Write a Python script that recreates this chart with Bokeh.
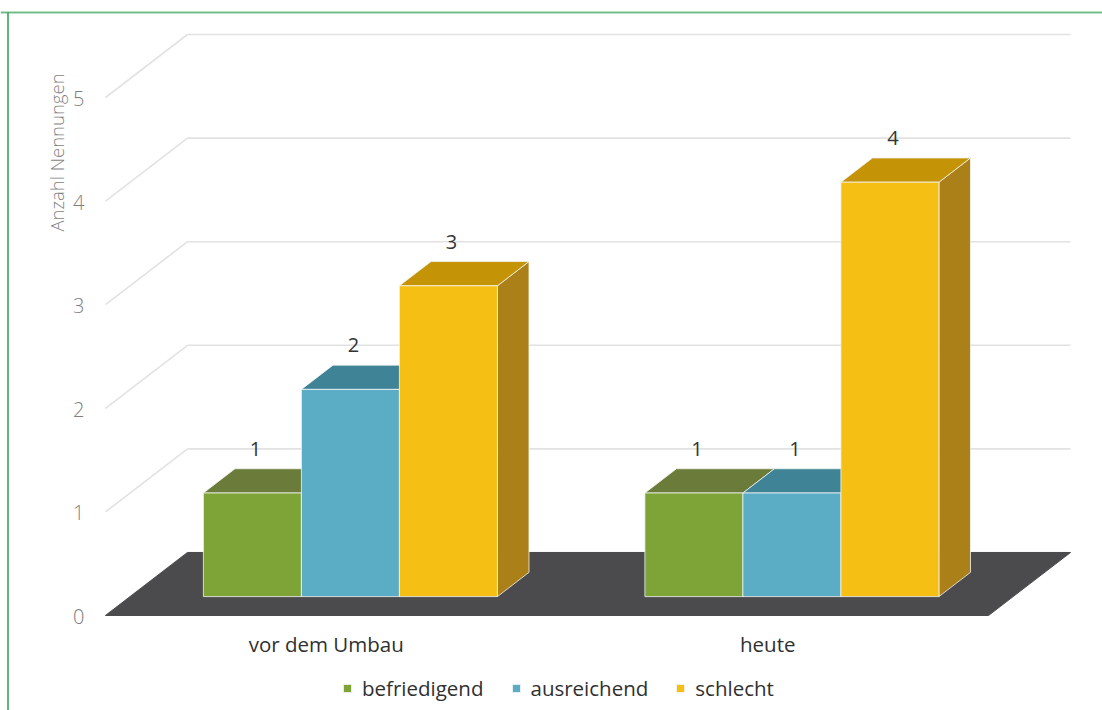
import numpy as np
from bokeh.plotting import figure
from bokeh.models import ColumnDataSource, Range1d, Legend, LegendItem, Label
from bokeh.core.properties import value
from bokeh.embed import file_html
from bokeh.resources import INLINE

# ---------------- data ----------------
categories = ["vor dem Umbau", "heute"]
series_names = ["befriedigend", "ausreichend", "schlecht"]
befriedigend = [1, 1]
ausreichend = [2, 1]
schlecht = [3, 4]
series_values = [befriedigend, ausreichend, schlecht]
y_ticks = [0, 1, 2, 3, 4, 5]
axis_title = "Anzahl Nennungen"

# ---------------- style ----------------
front_colors = ["#7ea336", "#5badc5", "#f5c013"]
top_colors = ["#6b7c3a", "#3f8496", "#c59406"]
side_colors = ["#5a6a2e", "#33707f", "#ab8018"]
floor_color = "#4b4b4d"
grid_color = "#e2e2e2"
edge_color = "#f4f4f4"

LIGHT_NAME = "'Open Sans Light', 'Open Sans'"
FONT = value("Open Sans")
FONT_LIGHT = value(LIGHT_NAME)

W, H = 1102, 710
XS = 441.5      # px per category slot
YS = 103.6      # px per value unit
DEPTH_X = 82.0  # px of full depth (x)
DEPTH_Y = 63.0  # px of full depth (y)
ORIGIN_X = 105  # px from left: front-left corner of floor
ORIGIN_Y = 615  # px from top: value 0 on front plane
GAP = 0.166     # slot fraction left of first bar
BW = 0.222      # bar width (slot fraction)
D0, D1 = 0.30, 0.685  # bar depth extent (fraction of full depth)

dxu = DEPTH_X / XS
dyu = DEPTH_Y / YS
n_cat = len(categories)

x_start = -ORIGIN_X / XS
y_start = -(H - ORIGIN_Y) / YS
p = figure(width=W, height=H,
           x_range=Range1d(x_start, x_start + W / XS),
           y_range=Range1d(y_start, y_start + H / YS),
           output_backend="svg", toolbar_location=None,
           x_axis_location=None, y_axis_location=None,
           min_border=0, outline_line_color=None,
           background_fill_color="white", border_fill_color="white")
p.xgrid.visible = False
p.ygrid.visible = False

# decorative frame lines (green) derived from ranges
xr0, xr1 = p.x_range.start, p.x_range.end
yr0, yr1 = p.y_range.start, p.y_range.end
top_y = yr1 - 12 / YS
left_x = xr0 + 7.5 / XS
p.segment(x0=[xr0], y0=[top_y], x1=[xr1], y1=[top_y], line_color="#72bd8a", line_width=2)
p.segment(x0=[left_x], y0=[top_y], x1=[left_x], y1=[yr0], line_color="#2f9657", line_width=1.5)

# walls: gridlines on side and back
gx, gy = [], []
for t in y_ticks:
    gx.append([0, dxu]); gy.append([t, t + dyu])
    gx.append([dxu, n_cat + dxu]); gy.append([t + dyu, t + dyu])
p.multi_line(xs=gx, ys=gy, line_color=grid_color, line_width=1.6)

# floor
p.patch(x=[0, n_cat, n_cat + dxu, dxu], y=[0, 0, dyu, dyu], fill_color=floor_color, line_color=floor_color)

# bars
ddx = (D1 - D0) * dxu
ddy = (D1 - D0) * dyu
legend_items = []
lab_x, lab_y, lab_t = [], [], []
for j, vals in enumerate(series_values):
    x0 = np.array([i + GAP + j * BW + D0 * dxu for i in range(n_cat)])
    x1 = x0 + BW
    yb = np.full(n_cat, D0 * dyu)
    yt = np.array(vals, dtype=float) + D0 * dyu
    side = ColumnDataSource(dict(
        xs=[[a, a, a + ddx, a + ddx] for a in x1],
        ys=[[b, c, c + ddy, b + ddy] for b, c in zip(yb, yt)]))
    top = ColumnDataSource(dict(
        xs=[[a, b, b + ddx, a + ddx] for a, b in zip(x0, x1)],
        ys=[[c, c, c + ddy, c + ddy] for c in yt]))
    front = ColumnDataSource(dict(left=x0, right=x1, bottom=yb, top=yt))
    p.patches("xs", "ys", source=side, fill_color=side_colors[j], line_color=edge_color, line_width=1, line_alpha=0.8)
    p.patches("xs", "ys", source=top, fill_color=top_colors[j], line_color=edge_color, line_width=1, line_alpha=0.8)
    r = p.quad(left="left", right="right", bottom="bottom", top="top", source=front,
               fill_color=front_colors[j], line_color=edge_color, line_width=1, line_alpha=0.8)
    legend_items.append(LegendItem(label=series_names[j], renderers=[r]))
    lab_x += list((x0 + x1) / 2)
    lab_y += list(yt)
    lab_t += [str(v) for v in vals]

# data labels
p.text(x=lab_x, y=lab_y, text=lab_t, text_font=FONT, text_font_size="20px",
       text_color="#333333", text_align="center", text_baseline="alphabetic",
       x_offset=3, y_offset=-44)

# value tick labels on front plane
p.text(x=[0] * len(y_ticks), y=y_ticks, text=[str(t) for t in y_ticks], text_font=FONT_LIGHT,
       text_font_size="20px", text_color="#7f7f7f", text_align="right",
       text_baseline="alphabetic", x_offset=-21, y_offset=1)

# category labels
p.text(x=[i + 0.5 for i in range(n_cat)], y=[0] * n_cat, text=categories, text_font=FONT,
       text_font_size="20.5px", text_color="#303030", text_align="center",
       text_baseline="alphabetic", y_offset=28)

# axis title
p.add_layout(Label(x=56, y=H - 152, x_units="screen", y_units="screen", text=axis_title,
                   angle=np.pi / 2, text_font=LIGHT_NAME, text_font_size="18.5px",
                   text_color="#7f7f7f", text_align="center", text_baseline="middle"))

legend = Legend(items=legend_items, orientation="horizontal", location=(342, 8),
                glyph_width=10, glyph_height=10, label_standoff=10, spacing=27,
                padding=0, margin=0, label_text_font="Open Sans", label_text_font_size="20.5px",
                label_text_color="#303030", background_fill_alpha=0, border_line_alpha=0)
p.add_layout(legend)

open("out.html", "w").write(file_html(p, INLINE))
